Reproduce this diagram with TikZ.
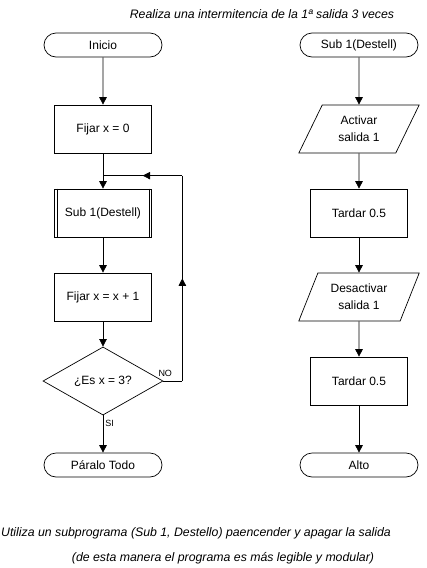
\documentclass[tikz,border=0pt]{standalone}
\usepackage{fontspec}
\setmainfont{Liberation Sans}
\usepackage{tikz}
\usetikzlibrary{shapes,shapes.geometric,shapes.misc,arrows.meta,calc,positioning,decorations.markings}
\tikzset{term/.style={draw,rounded rectangle,minimum width=118pt,minimum height=24pt,inner sep=0pt}}
\tikzstyle{proc}=[draw, rectangle, minimum width=97pt, minimum height=48pt, inner sep=0pt]
\tikzstyle{io}=[draw, trapezium, trapezium left angle=63, trapezium right angle=117, trapezium stretches=true, minimum width=121pt, minimum height=48pt, inner sep=0pt, align=center]
\tikzstyle{cond}=[draw, diamond, minimum width=120pt, minimum height=47pt, inner sep=0pt]
\tikzstyle{midarrow}=[postaction={decorate}, decoration={markings, mark=at position 0.5 with {\arrow{>}}}]

\begin{document}
\begin{tikzpicture}[x=1pt, y=-1pt, >={Triangle[width=7.5pt,length=7.5pt]}, node distance=84pt, line width=0.7pt, font=\fontsize{12}{17}\selectfont]
\useasboundingbox (0,0) rectangle (427,568);
\node[font=\fontsize{12.3}{14}\selectfont\itshape] (titulo) at (262,14) {Realiza una intermitencia de la 1ª salida 3 veces};
% programa principal
\node[term] (ini) at (103,45) {Inicio};
\node[proc][below of =ini] (fij0) {Fijar x = 0};
\node[proc][below of =fij0] (sub1) {Sub 1(Destell)};
\node[proc][below of =sub1] (fij1) {Fijar x = x + 1};
\node[cond][below of =fij1] (cond) {¿Es x = 3?};
\node[term][below of =cond] (fin) {Páralo Todo};
\draw ([xshift=3pt]sub1.north west) -- ([xshift=3pt]sub1.south west)
      ([xshift=-3pt]sub1.north east) -- ([xshift=-3pt]sub1.south east);
\path[->](ini) edge (fij0)
	 (fij0) edge (sub1)
	 (sub1) edge (fij1)
	 (fij1) edge (cond)
	 (cond) edge node[pos=0.22, right, inner sep=2pt, font=\fontsize{9}{10}\selectfont] {SI} (fin)
;
\coordinate (jn) at ($(sub1.north)+(0,13pt)$);
\coordinate (lb) at ($(cond.east)+(19pt,0)$);
\coordinate (lt) at (lb |- jn);
\draw (cond.east) -- node[pos=0.1, above, inner sep=4pt, font=\fontsize{9}{10}\selectfont] {NO} (lb);
\draw[midarrow] (lb) -- (lt);
\draw[midarrow] (lt) -- (jn);
% subprograma
\node[term] (sub) at (359,45) {Sub 1(Destell)};
\node[io][below of =sub] (act) {Activar\\salida 1};
\node[proc][below of =act] (t1) {Tardar 0.5};
\node[io][below of =t1] (des) {Desactivar\\salida 1};
\node[proc][below of =des] (t2) {Tardar 0.5};
\node[term][below of =t2] (alto) {Alto};
\path[->](sub) edge (act)
	 (act) edge (t1)
	 (t1) edge (des)
	 (des) edge (t2)
	 (t2) edge (alto)
;
\node[font=\fontsize{12.3}{14}\selectfont\itshape] (nota1) at (196,533) {Utiliza un subprograma (Sub 1, Destello) paencender y apagar la salida};
\node[font=\fontsize{12.3}{14}\selectfont\itshape] (nota2) at (223,558) {(de esta manera el programa es más legible y modular)};
\end{tikzpicture}
\end{document}
